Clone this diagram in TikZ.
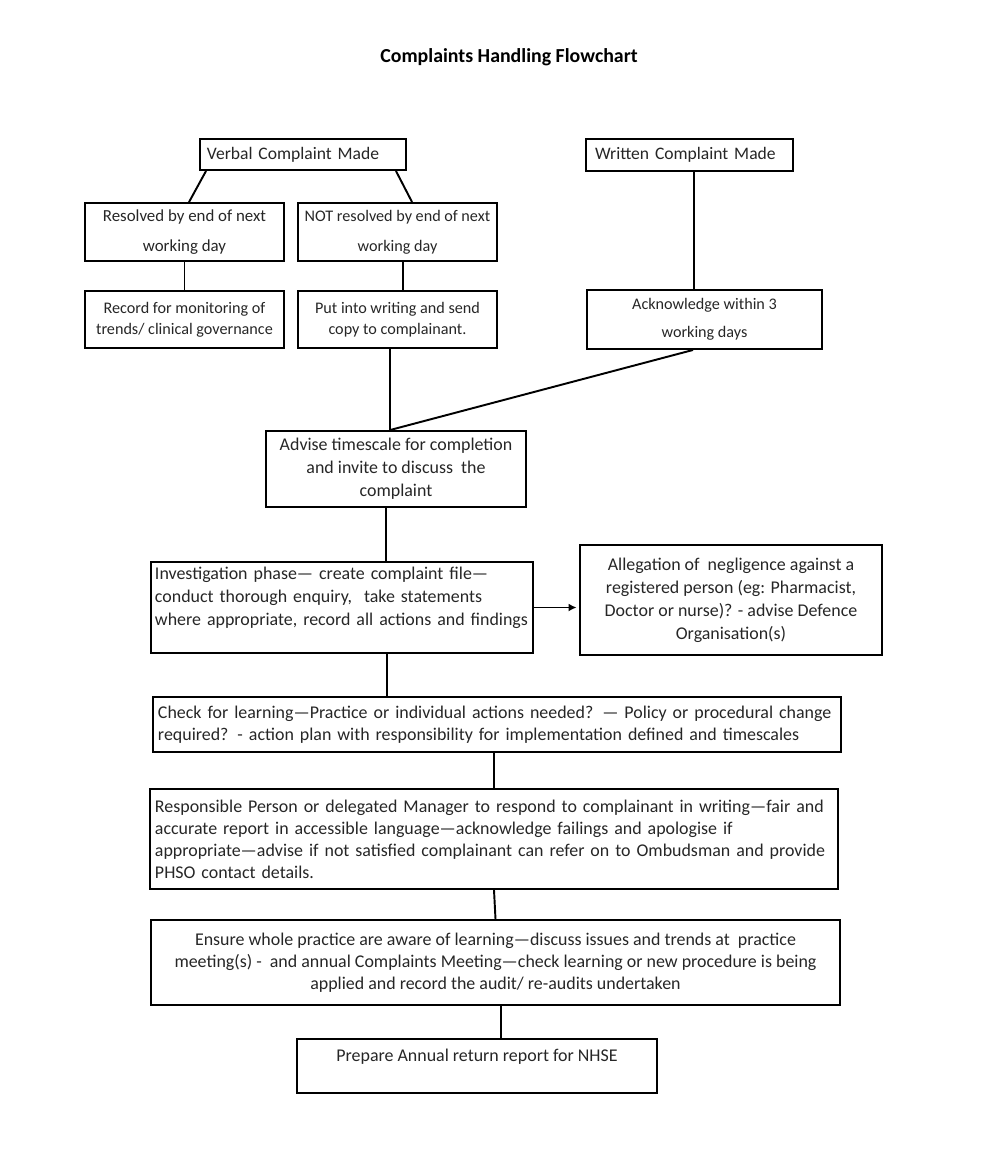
\documentclass[tikz,border=0pt]{standalone}
\usepackage{fontspec}
\setmainfont{Carlito}
\usetikzlibrary{arrows.meta}
\definecolor{txt}{HTML}{262626}
\newcommand{\fs}[2]{\fontsize{#1pt}{#2pt}\selectfont}
\begin{document}
\begin{tikzpicture}[x=0.2mm,y=-0.2mm,
  box/.style={draw, line width=1.1pt, inner sep=0pt, align=center, text=txt},
  conn/.style={line width=1.1pt},
  arr/.style={line width=1.1pt, -{Latex[length=1.6mm,width=1.6mm]}}]
\useasboundingbox (0,0) rectangle (1000,1151);
\node[font=\bfseries\fs{11.3}{13}] (title) at (509,57) {Complaints Handling Flowchart};

\node[box, align=left, inner xsep=1.4mm, text width=38.4mm, minimum height=6.2mm, font=\fs{10}{12}] (verbal) at (303,154.5) {Verbal Complaint Made};
\node[box, align=left, inner xsep=1.8mm, text width=37.8mm, minimum height=6.4mm, font=\fs{10}{12}] (written) at (689.5,155) {Written Complaint Made};

\node[box, minimum width=39.8mm, minimum height=11.6mm, font=\fs{9.6}{17}] (resolved) at (184.5,232) {Resolved by end of next\\working day};
\node[box, minimum width=39.8mm, minimum height=11.6mm, font=\fs{9.2}{17}] (notres) at (397.5,232) {NOT resolved by end of next\\working day};

\node[box, minimum width=39.8mm, minimum height=11.4mm, font=\fs{9.2}{12}] (record) at (184.5,319.5) {Record for monitoring of\\trends/ clinical governance};
\node[box, minimum width=39.8mm, minimum height=11.4mm, font=\fs{9.2}{12}] (put) at (397.5,319.5) {Put into writing and send\\copy to complainant.};
\node[box, minimum width=47mm, minimum height=11.8mm, font=\fs{9.2}{16}] (ack) at (704.5,319.5) {Acknowledge within 3\\working days};

\node[box, minimum width=52mm, minimum height=15.2mm, font=\fs{10.2}{13.1}] (advise) at (396,469) {Advise timescale for completion\\and invite to discuss\ \ the\\complaint};

\node[box, align=left, inner xsep=0.8mm, text width=74.8mm, minimum height=18.2mm, font=\fs{10.2}{13.1}] (invest) at (342,607.5) {Investigation phase— create complaint file—\\conduct thorough enquiry,\ \ take statements\\where appropriate, record all actions and findings\\\mbox{}};
\node[box, minimum width=60.4mm, minimum height=22mm, font=\fs{10.2}{13.1}] (alleg) at (731,600) {Allegation of\ \ negligence against a\\registered person (eg: Pharmacist,\\Doctor or nurse)? - advise Defence\\Organisation(s)};

\node[box, align=left, inner xsep=1mm, text width=135.6mm, minimum height=11mm, font=\fs{10.2}{12.5}] (check) at (497,724.5) {Check for learning—Practice or individual actions needed? — Policy or procedural change\\required? - action plan with responsibility for implementation defined and timescales};

\node[box, align=left, inner xsep=1mm, text width=135.6mm, minimum height=20mm, font=\fs{10.2}{12.5}] (resp) at (494,839) {Responsible Person or delegated Manager to respond to complainant in writing—fair and\\accurate report in accessible language—acknowledge failings and apologise if\\appropriate—advise if not satisfied complainant can refer on to Ombudsman and provide\\PHSO contact details.};

\node[box, minimum width=137.8mm, minimum height=17mm, font=\fs{10.2}{12.5}] (ensure) at (495.5,962.5) {Ensure whole practice are aware of learning—discuss issues and trends at\ \ practice\\meeting(s) -\ \ and annual Complaints Meeting—check learning or new procedure is being\\applied and record the audit/ re-audits undertaken};

\node[box, minimum width=72mm, minimum height=10.8mm, font=\fs{10.2}{12.5}] (prep) at (477,1066) {Prepare Annual return report for NHSE\\\mbox{}};

\draw[conn] ([xshift=1.4mm]verbal.south west) -- ([xshift=21mm]resolved.north west);
\draw[conn] ([xshift=-2.2mm]verbal.south east) -- ([xshift=23mm]notres.north west);
\draw[conn] (resolved.south) -- (record.north);
\draw[conn] ([xshift=1.1mm]notres.south) -- ([xshift=1.1mm]put.north);
\draw[conn] ([xshift=0.9mm]written.south) -- ([xshift=-2.1mm]ack.north);
\draw[conn] ([xshift=-1.5mm]put.south) -- ([xshift=-1.2mm]advise.north);
\draw[conn] ([xshift=-2.3mm]ack.south) -- ([xshift=-1.2mm]advise.north);
\draw[conn] ([xshift=-2mm]advise.south) -- ([xshift=8.8mm]invest.north);
\draw[arr, shorten >=0.5mm] (invest.east) -- (invest.east -| alleg.west);
\draw[conn] ([xshift=9mm]invest.south) -- ([xshift=-22mm]check.north);
\draw[conn] ([xshift=-0.6mm]check.south) -- (resp.north);
\draw[conn] (resp.south) -- (ensure.north);
\draw[conn] ([xshift=1.1mm]ensure.south) -- ([xshift=4.8mm]prep.north);
\end{tikzpicture}
\end{document}
